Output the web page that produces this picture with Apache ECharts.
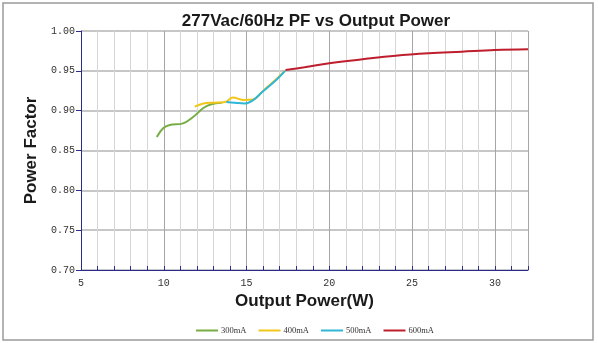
<!DOCTYPE html>
<html><head><meta charset="utf-8">
<script src="https://cdn.jsdelivr.net/npm/echarts@6/dist/echarts.min.js"></script>
<style>html,body{margin:0;padding:0;background:#fff}#c{width:598px;height:343px}</style>
</head><body><div id="c"></div>
<script>
const seriesNames = ['300mA','400mA','500mA','600mA'];
const pf300 = [[9.58,0.867],[9.96,0.878],[10.36,0.882],[11.16,0.884],[11.77,0.892],[12.37,0.903],[12.87,0.908],[13.5,0.910]];
const pf400 = [[11.87,0.905],[12.4,0.909],[13.0,0.910],[13.7,0.911],[14.18,0.9165],[14.78,0.9135],[15.38,0.914],[16.0,0.925],[16.79,0.9395],[17.3,0.950]];
const pf500 = [[13.78,0.911],[14.28,0.910],[14.88,0.909],[15.38,0.913],[15.98,0.924],[16.79,0.9385],[17.33,0.950]];
const pf600 = [[17.35,0.951],[18.5,0.9545],[20,0.9595],[22,0.9645],[24,0.969],[26,0.972],[28,0.974],[30,0.976],[32,0.977]];
const colors = ['#78ad45','#f2c619','#2eb7d6','#be1e2d'];
const xMin = 5, xMax = 32, xStep = 5;
const yMin = 0.70, yMax = 1.00, yStep = 0.05;

const chart = echarts.init(document.getElementById('c'), null, {renderer:'canvas'});
const data = [pf300, pf400, pf500, pf600];
chart.setOption({
  animation:false,
  backgroundColor:'#fff',
  title:{text:'277Vac/60Hz PF vs Output Power', left:311, top:8, textAlign:'center',
    textStyle:{fontFamily:'Liberation Sans, Arial', fontSize:17, fontWeight:'bold', color:'#1a1a1a'}},
  graphic:[{type:'rect', shape:{x:3,y:3,width:590,height:337}, style:{fill:'none', stroke:'#9a9a9a', lineWidth:1.5}, silent:true}],
  legend:{top:321, left:191, itemWidth:22, itemHeight:2, itemGap:12, icon:'rect',
    data:seriesNames, textStyle:{fontFamily:'Liberation Serif, serif', fontSize:8.5, color:'#333', padding:[0,0,0,-2]}},
  grid:{left:81, right:70, top:31, bottom:73},
  xAxis:{type:'value', min:xMin, max:xMax, interval:xStep,
    name:'Output Power(W)', nameLocation:'middle', nameGap:22,
    nameTextStyle:{fontFamily:'Liberation Sans, Arial', fontSize:17, fontWeight:'bold', color:'#1a1a1a'},
    axisLine:{lineStyle:{color:'#2b2b8c', width:1}},
    axisTick:{show:true, inside:true, length:4, lineStyle:{color:'#2b2b8c'}},
    minorTick:{show:true, splitNumber:5, length:4, lineStyle:{color:'#2b2b8c'}},
    axisLabel:{showMaxLabel:false, fontFamily:'Liberation Mono, monospace', fontSize:10, color:'#333', margin:8},
    splitLine:{show:true, lineStyle:{color:'#a6a6a6', width:1}},
    minorSplitLine:{show:true, lineStyle:{color:'#d6d6d6', width:1}}
  },
  yAxis:{type:'value', min:yMin, max:yMax, interval:yStep,
    name:'Power Factor', nameLocation:'middle', nameGap:36,
    nameTextStyle:{fontFamily:'Liberation Sans, Arial', fontSize:17, fontWeight:'bold', color:'#1a1a1a'},
    axisLine:{show:true, lineStyle:{color:'#2b2b8c', width:1}},
    axisTick:{show:true, inside:false, length:5, lineStyle:{color:'#2b2b8c'}},
    axisLabel:{formatter:v=>v.toFixed(2), fontFamily:'Liberation Mono, monospace', fontSize:10, color:'#333', margin:6},
    splitLine:{show:true, lineStyle:{color:'#b4b4b4', width:1.5}}
  },
  series: seriesNames.map((n,i)=>({name:n, type:'line', smooth:0.4, symbol:'none', data:data[i],
    color:colors[i], lineStyle:{width:2, color:colors[i]}, z:2+i}))
});
</script></body></html>
